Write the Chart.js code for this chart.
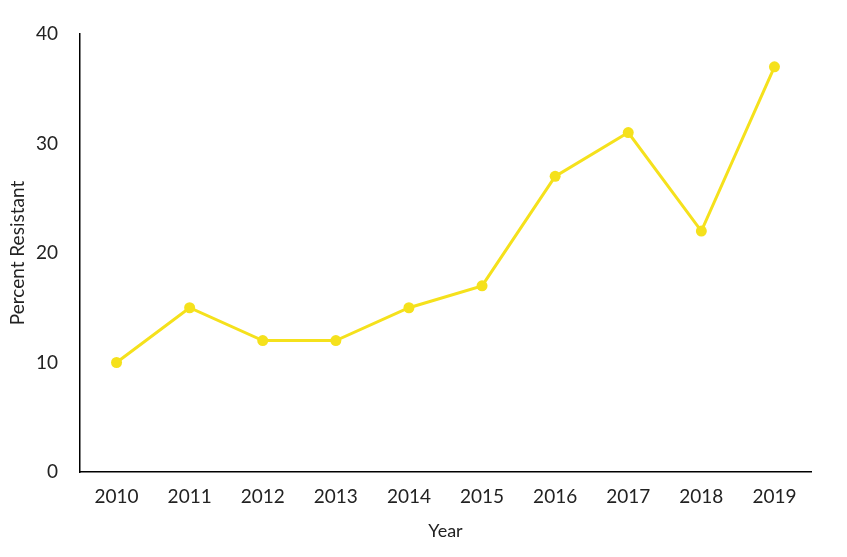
<!DOCTYPE html>
<html>
<head>
<meta charset="utf-8">
<script src="https://cdn.jsdelivr.net/npm/chart.js@4/dist/chart.umd.min.js"></script>
<style>
html,body{margin:0;padding:0;background:#fff;}
#wrap{width:847px;height:557px;position:relative;}
</style>
</head>
<body>
<div id="wrap"><canvas id="c" width="847" height="557"></canvas></div>
<script>
const years = ['2010','2011','2012','2013','2014','2015','2016','2017','2018','2019'];
const percentResistant = [10, 15, 12, 12, 15, 17, 27, 31, 22, 37];
const yTicks = [0, 10, 20, 30, 40];

const FONT = 'Lato, "Open Sans", sans-serif';
new Chart(document.getElementById('c'), {
  type: 'line',
  data: {
    labels: years,
    datasets: [{
      data: percentResistant,
      borderColor: '#F5E11C',
      backgroundColor: '#F5E11C',
      borderWidth: 3,
      pointRadius: 5.5,
      pointHoverRadius: 5.5,
      pointBorderWidth: 0,
      tension: 0,
      fill: false
    }]
  },
  options: {
    responsive: false,
    animation: false,
    devicePixelRatio: 1,
    layout: { padding: { top: 34, right: 36, bottom: 15, left: 6 } },
    plugins: { legend: { display: false }, tooltip: { enabled: false } },
    scales: {
      x: {
        offset: true,
        grid: { display: false, drawTicks: false },
        border: { display: true, color: '#000', width: 1.5 },
        ticks: { color: '#222', font: { family: FONT, size: 19 }, padding: 13, maxRotation: 0 },
        title: { display: true, text: 'Year', color: '#222', font: { family: FONT, size: 18 }, padding: { top: 8, bottom: 0 } },
        afterFit: s => { s.height = 557 - 472 - 15; }
      },
      y: {
        min: 0, max: 40,
        afterBuildTicks: s => { s.ticks = yTicks.map(v => ({ value: v })); },
        grid: { display: false, drawTicks: false },
        border: { display: true, color: '#000', width: 1.5 },
        ticks: { color: '#222', font: { family: FONT, size: 19 }, padding: 22 },
        title: { display: true, text: 'Percent Resistant', color: '#222', font: { family: FONT, size: 19 }, padding: { top: 0, bottom: 0 } },
        afterFit: s => { s.width = 74; }
      }
    }
  }
});
</script>
</body>
</html>
